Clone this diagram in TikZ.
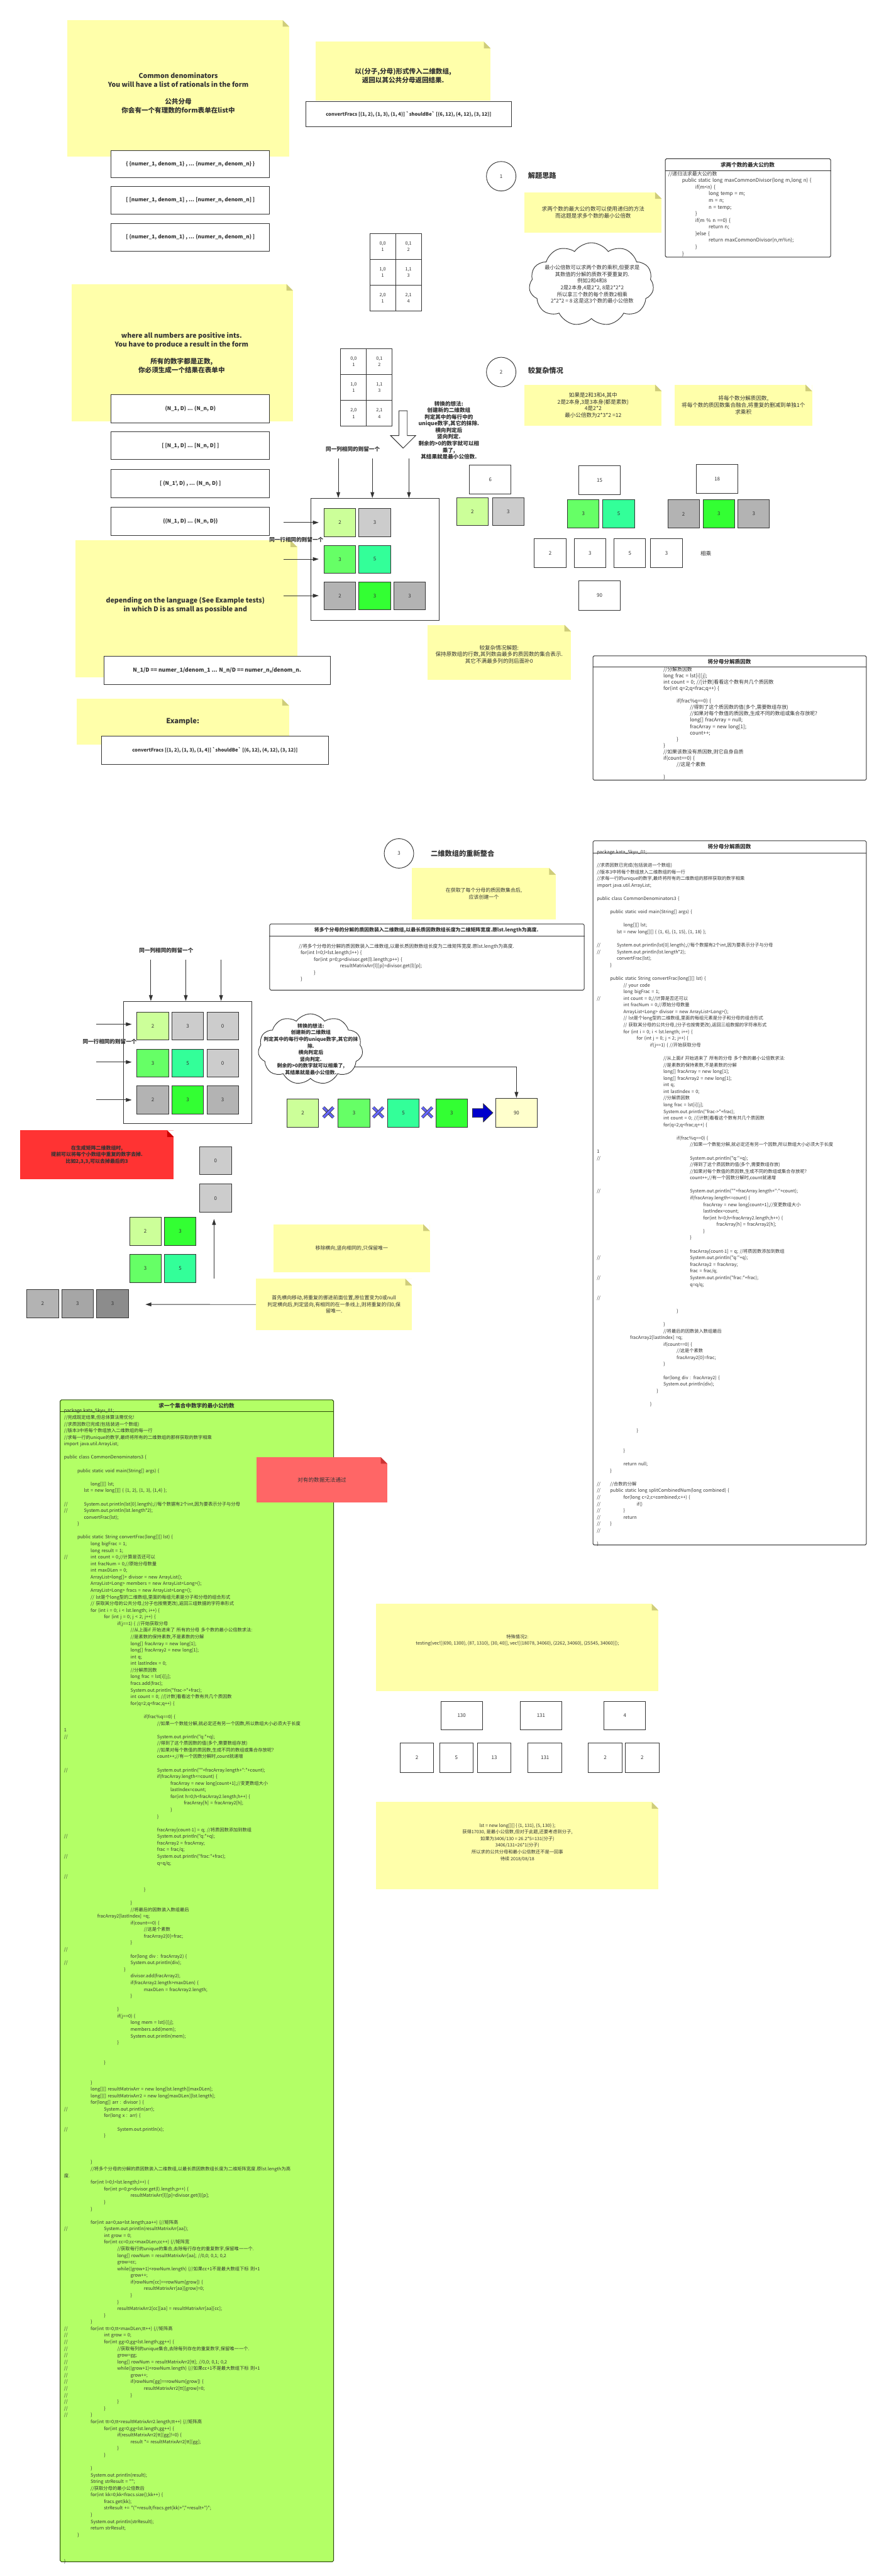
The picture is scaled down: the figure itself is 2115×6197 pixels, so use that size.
\documentclass[tikz,border=0pt]{standalone}
\usepackage{fontspec}
\newfontfamily\cjkfont{Noto Sans CJK SC}
\usepackage{tikz}
\usetikzlibrary{arrows.meta, shapes.symbols, calc}
\definecolor{noteyellow}{HTML}{FFFFAA}
\definecolor{notefold}{HTML}{CFCD7A}
\definecolor{linegray}{HTML}{333333}
\definecolor{txtgray}{HTML}{333333}
\definecolor{palegreen}{HTML}{CCFF99}
\definecolor{midgreen}{HTML}{66FF66}
\definecolor{aquagreen}{HTML}{33FF99}
\definecolor{brightgreen}{HTML}{33FF33}
\definecolor{lightgray}{HTML}{CCCCCC}
\definecolor{midgray}{HTML}{B3B3B3}
\definecolor{deepgray}{HTML}{A6A6A6}
\definecolor{darkestgray}{HTML}{8C8C8C}
\definecolor{paleyellow}{HTML}{FFFFCC}
\definecolor{redstrong}{HTML}{FF3333}
\definecolor{redfold}{HTML}{CC0000}
\definecolor{redsoft}{HTML}{FF6666}
\definecolor{redsoftfold}{HTML}{CC3333}
\definecolor{codegreen}{HTML}{B3FF66}
\definecolor{codegreenline}{HTML}{2B4A0B}
\definecolor{xblue}{HTML}{6666FF}
\definecolor{arrowblue}{HTML}{0000CC}
\setlength\parindent{0pt}
\newcommand\ind[1]{\hspace*{#1pt}}
\newcommand\cmt{\makebox[0pt][l]{//}}
\newcommand\blank{\mbox{}}
\newcommand\foldcorner[2]{%
  \fill[white] (path picture bounding box.north east) -- ++(-#2,0) -- ++(#2,#2) -- cycle;
  \fill[#1] ($(path picture bounding box.north east)+(-#2,0)$) -- ++(0,#2) -- ++(#2,0) -- cycle;}

\begin{document}
\cjkfont
\begin{tikzpicture}[x=1pt, y=-1pt,
  note/.style={anchor=north west, inner sep=0pt, fill=noteyellow, text=txtgray,
               align=center, font=\fontsize{13}{16}\selectfont,
               path picture={\foldcorner{notefold}{16}}},
  rednote/.style={note, fill=redstrong, path picture={\foldcorner{redfold}{16}},
                  font=\bfseries\fontsize{12}{16}\selectfont},
  bigtxt/.style={align=center, text=txtgray, font=\bfseries\fontsize{16}{21}\selectfont},
  notetxt/.style={align=center, text=txtgray, font=\fontsize{13}{16}\selectfont},
  formbox/.style={anchor=north west, draw=linegray, line width=1.5pt, fill=white,
                  inner sep=0pt, text=txtgray, font=\bfseries\fontsize{12.5}{16}\selectfont},
  tcell/.style={anchor=north west, draw=linegray, line width=1.5pt, minimum width=62pt,
                minimum height=62pt, inner sep=0pt, align=center, text=txtgray,
                font=\fontsize{11}{16}\selectfont},
  sq/.style={anchor=north west, draw=linegray, line width=1.5pt, minimum width=76pt,
             minimum height=67pt, inner sep=0pt, text=txtgray, font=\fontsize{12}{14}\selectfont},
  numbox/.style={sq, fill=white, minimum width=100pt, minimum height=70pt},
  grpframe/.style={anchor=north west, draw=linegray, line width=1.5pt, inner sep=0pt,
                   minimum width=309pt, minimum height=294pt},
  codebox/.style={anchor=north west, draw=linegray, line width=1.5pt, rounded corners=3pt,
                  fill=white, inner sep=0pt},
  codetxt/.style={anchor=north west, inner sep=0pt, text width=650pt, align=left, text=txtgray,
                  font=\fontsize{11}{16}\selectfont},
  codettl/.style={text=txtgray, font=\bfseries\fontsize{13}{16}\selectfont},
  circ/.style={circle, draw=linegray, line width=1.4pt, minimum size=71pt, inner sep=0pt,
               text=txtgray, font=\fontsize{12}{14}\selectfont},
  secttl/.style={anchor=west, text=txtgray, font=\bfseries\fontsize{17}{20}\selectfont},
  lbl/.style={align=center, text=txtgray, font=\bfseries\fontsize{13}{16}\selectfont},
  arr/.style={-{Triangle[length=14pt,width=9pt]}, draw=linegray, line width=1.4pt},
  cloudy/.style={cloud, cloud puffs=11, cloud puff arc=110, draw=linegray, line width=1.4pt,
                 fill=white, inner sep=0pt},
  xcross/.style={draw=linegray, line width=1.2pt, double=xblue, double distance=5pt},
]
\useasboundingbox (0,0) rectangle (2115,6197);
\fill[white] (0,0) rectangle (2115,6197);

%% the task
\node[note, minimum width=534pt, minimum height=329pt] (noteA) at (162,48) {};
\node[bigtxt] (noteA-t) at (429,224) {Common denominators\\You will have a list of rationals in the form\\\blank\\公共分母\\你会有一个有理数的form表单在list中};
\node[formbox, minimum width=381pt, minimum height=66pt] (inA) at (267,361) {\{ \{numer\_1, denom\_1\} , ... \{numer\_n, denom\_n\} \}};
\node[formbox, minimum width=381pt, minimum height=66pt] (inB) at (267,448) {[ [numer\_1, denom\_1] , ... [numer\_n, denom\_n] ]};
\node[formbox, minimum width=381pt, minimum height=66pt] (inC) at (267,537) {[ (numer\_1, denom\_1) , ... (numer\_n, denom\_n) ]};

\node[note, minimum width=420pt, minimum height=142pt] (noteB) at (760,100) {};
\node[bigtxt] (noteB-t) at (970,182) {以(分子,分母)形式传入二维数组,\\返回以其公共分母返回结果.};
\node[formbox, minimum width=495pt, minimum height=60pt, font=\bfseries\fontsize{11.5}{14}\selectfont] (exA) at (735,244) {convertFracs [(1, 2), (1, 3), (1, 4)] `shouldBe` [(6, 12), (4, 12), (3, 12)]};

\foreach \v [count=\row from 0] in {2,3,4} {
  \node[tcell] (ta\row0) at (889, 561+62*\row) {\row,0\\1};
  \node[tcell] (ta\row1) at (951, 561+62*\row) {\row,1\\\v};
}

\node[note, minimum width=533pt, minimum height=330pt] (noteC) at (172,683) {};
\node[bigtxt] (noteC-t) at (437,849) {where all numbers are positive ints.\\You have to produce a result in the form\\\blank\\所有的数字都是正数,\\你必须生成一个结果在表单中};
\node[formbox, minimum width=381pt, minimum height=67pt] (outA) at (267,949) {(N\_1, D) ... (N\_n, D)};
\node[formbox, minimum width=381pt, minimum height=67pt] (outB) at (267,1038) {[ [N\_1, D] ... [N\_n, D] ]};
\node[formbox, minimum width=381pt, minimum height=67pt] (outC) at (267,1129) {[ (N\_1', D) , ... (N\_n, D) ]};
\node[formbox, minimum width=381pt, minimum height=67pt] (outD) at (267,1220) {\{(N\_1, D\} ... \{N\_n, D\}\}};

\node[note, minimum width=534pt, minimum height=329pt] (noteM) at (181,1300) {};
\node[bigtxt] (noteM-t) at (446,1455) {depending on the language (See Example tests)\\in which D is as small as possible and};
\node[formbox, minimum width=545pt, minimum height=68pt, font=\bfseries\fontsize{13}{16}\selectfont] (cond) at (249,1578) {N\_1/D == numer\_1/denom\_1 ... N\_n/D == numer\_n,/denom\_n.};

\node[note, minimum width=511pt, minimum height=110pt, font=\bfseries\fontsize{17}{20}\selectfont] (noteN) at (184,1681) {Example:};
\node[formbox, minimum width=545pt, minimum height=68pt, font=\bfseries\fontsize{11.5}{14}\selectfont] (exB) at (244,1770) {convertFracs [(1, 2), (1, 3), (1, 4)] `shouldBe` [(6, 12), (4, 12), (3, 12)]};

%% first matrix
\foreach \v [count=\row from 0] in {2,3,4} {
  \node[tcell] (tb\row0) at (819, 838+62.3*\row) {\row,0\\1};
  \node[tcell] (tb\row1) at (881, 838+62.3*\row) {\row,1\\\v};
}
\filldraw[fill=white, draw=linegray, line width=1.4pt] (960,988) -- (980,988) -- (980,1048) -- (1000,1048) -- (970,1078) -- (940,1048) -- (960,1048) -- cycle;
\node[lbl] (idea) at (1080,1035) {转换的想法:\\创建新的二维数组\\判定其中的每行中的\\unique数字,其它的抹除.\\横向判定后\\竖向判定.\\剩余的>0的数字就可以相\\乘了,\\其结果就是最小公倍数.};
\node[lbl] (colA) at (849,1080) {同一列相同的则留一个};

\node[grpframe] (fA) at (747,1198) {};
\foreach \c/\rw/\v/\f in {0/0/2/palegreen, 1/0/3/lightgray, 0/1/3/midgreen, 1/1/5/aquagreen,
                          0/2/2/midgray, 1/2/3/brightgreen, 2/2/3/midgray}
  \node[sq, fill=\f] (fa\c\rw) at (779+84*\c, 1223+88*\rw) {\v};
\foreach \x [count=\i] in {814,896,984} {
  \coordinate (da\i) at (\x,1103);
  \draw[arr] (da\i) -- (da\i |- fA.north);
}
\foreach \rw in {0,1,2} {
  \coordinate (la\rw) at (683, 1257+88*\rw);
  \draw[arr, shorten >=12pt] (la\rw) -- (la\rw -| fa0\rw.west);
}
\node[lbl] (rowA) at (713,1298) {同一行相同的则留一个};

%% 1 解题思路
\node[circ] (s1) at (1206,424) {1};
\node[secttl] (s1-t) at (1267,423) {解题思路};
\node[note, minimum width=330pt, minimum height=98pt] (noteE) at (1262,462) {求两个数的最大公约数可以使用递归的方法\\而这题是求多个数的最小公倍数};
\node[cloudy, minimum width=300pt, minimum height=200pt] (cloudA) at (1423,684) {};
\node[align=center, text=txtgray, font=\fontsize{12.5}{16}\selectfont] (cloudA-t) at (1425,684) {最小公倍数可以求两个数的乘积,但要求是\\其数值的分解的质数不要重复的.\\例如2和4和8\\2是2本身,4是2*2, 8是2*2*2\\所以拿三个数的每个质数2相乘\\2*2*2 = 8 这是这3个数的最小公倍数};

\node[codebox, minimum width=398pt, minimum height=237pt] (gcd) at (1600,381) {};
\draw[linegray, line width=1.5pt] (gcd.west |- 0,411) -- (gcd.east |- 0,411);
\node[codettl] (gcd-t) at (1799,396) {求两个数的最大公约数};
\node[codetxt, font=\fontsize{12}{16}\selectfont] (gcd-c) at (1608,412) {//递归法求最大公约数\\
\ind{33}public static long maxCommonDivisor(long m,long n) \{\\
\ind{65}if(m<n) \{\\
\ind{97}long temp = m;\\
\ind{97}m = n;\\
\ind{97}n = temp;\\
\ind{65}\}\\
\ind{65}if(m \% n ==0) \{\\
\ind{97}return n;\\
\ind{65}\}else \{\\
\ind{97}return maxCommonDivisor(n,m\%n);\\
\ind{65}\}\\
\ind{33}\}};

%% 2 较复杂情况
\node[circ] (s2) at (1206,895) {2};
\node[secttl] (s2-t) at (1267,892) {较复杂情况};
\node[note, minimum width=330pt, minimum height=99pt] (noteF) at (1262,925) {如果是2和3和4,其中\\2是2本身,3是3本身(都是素数)\\4是2*2\\最小公倍数为2*3*2 =12};
\node[note, minimum width=331pt, minimum height=99pt] (noteG) at (1623,925) {将每个数分解质因数,\\将每个数的质因数集合融合,将重复的删减到单独1个\\求乘积};

\node[numbox] (n6) at (1129,1118) {6};
\node[sq, fill=palegreen] (n6a) at (1098,1197) {2};
\node[sq, fill=lightgray] (n6b) at (1184,1197) {3};
\node[numbox] (n15) at (1392,1119) {15};
\node[sq, fill=midgreen] (n15a) at (1365,1202) {3};
\node[sq, fill=aquagreen] (n15b) at (1450,1202) {5};
\node[numbox] (n18) at (1675,1116) {18};
\node[sq, fill=midgray] (n18a) at (1606,1202) {2};
\node[sq, fill=brightgreen] (n18b) at (1691,1202) {3};
\node[sq, fill=midgray] (n18c) at (1775,1202) {3};
\foreach \x/\v [count=\i] in {1285/2, 1381/3, 1477/5, 1565/3}
  \node[sq, fill=white, minimum height=69pt] (m\i) at (\x,1295) {\v};
\node[anchor=west, text=txtgray, font=\fontsize{13}{16}\selectfont] (mul) at (1682,1331) {相乘};
\node[numbox] (n90) at (1392,1397) {90};

\node[note, minimum width=345pt, minimum height=132pt] (noteD) at (1029,1503) {};
\node[notetxt] (noteD-t) at (1201,1574) {较复杂情况解题:\\保持原数组的行数,其列数由最多的质因数的集合表示.\\其它不满最多列的则后面补0};

\node[codebox, minimum width=658pt, minimum height=299pt] (split) at (1426,1577) {};
\draw[linegray, line width=1.5pt] (split.west |- 0,1605) -- (split.east |- 0,1605);
\node[codettl] (split-t) at (1755,1592) {将分母分解质因数};
\node[codetxt, font=\fontsize{12}{15.3}\selectfont] (split-c) at (1596,1604) {//分解质因数\\
long frac = lst[i][j];\\
int count = 0; //[计数]看看这个数有共几个质因数\\
for(int q=2;q<frac;q++) \{\\
\blank\\
\ind{32}if(frac\%q==0) \{\\
\ind{64}//得到了这个质因数的值(多个,需要数组存放)\\
\ind{64}//如果对每个数值的质因数,生成不同的数组或集合存放呢?\\
\ind{64}long[] fracArray = null;\\
\ind{64}fracArray = new long[1];\\
\ind{64}count++;\\
\ind{32}\}\\
\}\\
//如果该数没有质因数,则它自身自质\\
if(count==0) \{\\
\ind{32}//这是个素数\\
\blank\\
\}};

%% 3 二维数组的重新整合
\node[circ] (s3) at (960,2053) {3};
\node[secttl] (s3-t) at (1033,2053) {二维数组的重新整合};
\node[note, minimum width=346pt, minimum height=123pt, font=\fontsize{12}{16}\selectfont] (noteH) at (991,2088) {在获取了每个分母的质因数集合后,\\应该创建一个};

\node[codebox, minimum width=757pt, minimum height=159pt] (fill) at (648,2222) {};
\draw[linegray, line width=1.5pt] (fill.west |- 0,2252) -- (fill.east |- 0,2252);
\node[codettl, font=\bfseries\fontsize{12}{16}\selectfont] (fill-t) at (1026,2238) {将多个分母的分解的质因数装入二维数组,以最长质因数数组长度为二维矩阵宽度.原lst.length为高度.};
\node[codetxt, font=\fontsize{11.5}{16}\selectfont] (fill-c) at (719,2270) {//将多个分母的分解的质因数装入二维数组,以最长质因数数组长度为二维矩阵宽度.原lst.length为高度.\\
\ind{4}for(int l=0;l<lst.length;l++) \{\\
\ind{36}for(int p=0;p<divisor.get(l).length;p++) \{\\
\ind{99}resultMatrixArr[l][p]=divisor.get(l)[p];\\
\ind{36}\}\\
\ind{4}\}};

\node[lbl] (colB) at (400,2287) {同一列相同的则留一个};
\node[grpframe] (fB) at (296,2408) {};
\foreach \c/\rw/\v/\f in {0/0/2/palegreen, 1/0/3/lightgray, 2/0/0/lightgray,
                          0/1/3/midgreen, 1/1/5/aquagreen, 2/1/0/lightgray,
                          0/2/2/midgray, 1/2/3/brightgreen, 2/2/3/midgray}
  \node[sq, fill=\f] (fb\c\rw) at (329+84*\c, 2434+89*\rw) {\v};
\foreach \x [count=\i] in {363,447,532} {
  \coordinate (db\i) at (\x,2309);
  \draw[arr] (db\i) -- (db\i |- fB.north);
}
\foreach \rw in {0,1,2} {
  \coordinate (lb\rw) at (232, 2464+91*\rw);
  \draw[arr, shorten >=12pt] (lb\rw) -- (lb\rw -| fb0\rw.west);
}
\node[lbl] (rowB) at (264,2505) {同一行相同的则留一个};

\node[cloudy, minimum width=252pt, minimum height=170pt] (cloudB) at (747,2524) {};
\node[lbl, font=\bfseries\fontsize{12}{16}\selectfont] (cloudB-t) at (748,2524) {转换的想法:\\创建新的二维数组\\判定其中的每行中的unique数字,其它的抹\\除.\\横向判定后\\竖向判定.\\剩余的>0的数字就可以相乘了,\\其结果就是最小公倍数.};

\node[sq, fill=palegreen, minimum height=68pt] (p2) at (690,2643) {2};
\node[sq, fill=midgreen, minimum height=68pt] (p3) at (813,2643) {3};
\node[sq, fill=aquagreen, minimum height=68pt] (p5) at (932,2643) {5};
\node[sq, fill=brightgreen, minimum height=68pt] (p3b) at (1048,2643) {3};
\node[sq, fill=paleyellow, minimum width=100pt, minimum height=70pt] (p90) at (1192,2641) {90};
\foreach \x in {790,910,1028} {
  \draw[xcross] (\x-12,2664) -- (\x+12,2688);
  \draw[xcross] (\x+12,2664) -- (\x-12,2688);
}
\filldraw[fill=arrowblue, draw=linegray, line width=1.2pt] (1137,2667) -- (1163,2667) -- (1163,2655) -- (1186,2677) -- (1163,2699) -- (1163,2688) -- (1137,2688) -- cycle;
\draw[arr] (cloudB.-22) -| (p90.north);

\node[rednote, minimum width=370pt, minimum height=118pt] (noteR) at (48,2719) {在生成矩阵二维数组时,\\提前可以将每个小数组中重复的数字去掉.\\比如2,3,3,可以去掉最后的3};
\node[sq, fill=lightgray] (z1) at (480,2758) {0};
\node[sq, fill=lightgray, minimum height=68pt] (z2) at (480,2848) {0};
\node[sq, fill=palegreen, minimum height=68pt] (q2) at (311,2927) {2};
\node[sq, fill=brightgreen, minimum height=68pt] (q3) at (395,2927) {3};
\node[sq, fill=midgreen, minimum height=68pt] (q3b) at (311,3017) {3};
\node[sq, fill=aquagreen, minimum height=68pt] (q5) at (395,3017) {5};
\coordinate (up0) at (515,3076);
\draw[arr, shorten >=15pt] (up0) -- (up0 |- z2.south);
\node[sq, fill=midgray, minimum height=68pt] (r2) at (64,3101) {2};
\node[sq, fill=deepgray, minimum height=68pt] (r3) at (148,3101) {3};
\node[sq, fill=darkestgray, minimum height=68pt] (r3b) at (232,3101) {3};

\node[note, minimum width=376pt, minimum height=116pt, font=\fontsize{12}{16}\selectfont] (noteI) at (658,2945) {移除横向,竖向相同的,只保留唯一};
\node[note, minimum width=375pt, minimum height=124pt, font=\fontsize{12}{16}\selectfont] (noteJ) at (616,3076) {首先横向移动,将重复的挪进前面位置,原位置变为0或null\\判定横向后,判定竖向,有相同的在一条线上,则将重复的归0,保\\留唯一.};
\coordinate (lt) at (350,3138);
\draw[arr] (noteJ.west) -- (lt);

%% version 3 code
\node[codebox, minimum width=658pt, minimum height=1694pt] (v3) at (1426,2022) {};
\draw[linegray, line width=1.5pt] (v3.west |- 0,2052) -- (v3.east |- 0,2052);
\node[codettl] (v3-t) at (1755,2036) {将分母分解质因数};
\node[codetxt] (v3-c) at (1436,2045) {package kata\_5kyu\_01;\\
\blank\\
//求质因数已完成(包括装进一个数组)\\
//版本3中将每个数组放入二维数组的每一行\\
//求每一行的unique的数字,最终将所有的二维数组的那样获取的数字相乘\\
import java.util.ArrayList;\\
\blank\\
public class CommonDenominators3 \{\\
\blank\\
\ind{32}public static void main(String[] args) \{\\
\blank\\
\ind{64}long[][] lst;\\
\ind{48}lst = new long[][] \{ \{1, 6\}, \{1, 15\}, \{1, 18\} \};\\
\blank\\
\cmt\ind{48}System.out.println(lst[0].length);//每个数据有2个int,因为要表示分子与分母\\
\cmt\ind{48}System.out.println(lst.length*2);\\
\ind{48}convertFrac(lst);\\
\ind{32}\}\\
\blank\\
\ind{32}public static String convertFrac(long[][] lst) \{\\
\ind{64}// your code\\
\ind{64}long bigFrac = 1;\\
\cmt\ind{64}int count = 0;//计算是否还可以\\
\ind{64}int fracNum = 0;//原始分母数量\\
\ind{64}ArrayList<Long> divisor = new ArrayList<Long>();\\
\ind{64}// lst是个long型的二维数组,里面的每组元素是分子和分母的组合形式\\
\ind{64}// 获取其分母的公共分母,(分子也按需更改),返回三组数据的字符串形式\\
\ind{64}for (int i = 0; i < lst.length; i++) \{\\
\ind{96}for (int j = 0; j < 2; j++) \{\\
\ind{128}if(j==1) \{ //开始获取分母\\
\blank\\
\ind{160}//从上面if 开始进来了 所有的分母 多个数的最小公倍数求法:\\
\ind{160}//是素数的保持素数,不是素数的分解\\
\ind{160}long[] fracArray = new long[1];\\
\ind{160}long[] fracArray2 = new long[1];\\
\ind{160}int q;\\
\ind{160}int lastIndex = 0;\\
\ind{160}//分解质因数\\
\ind{160}long frac = lst[i][j];\\
\ind{160}System.out.println("frac->"+frac);\\
\ind{160}int count = 0; //[计数]看看这个数有共几个质因数\\
\ind{160}for(q=2;q<frac;q++) \{\\
\blank\\
\ind{192}if(frac\%q==0) \{\\
\ind{224}//如果一个数能分解,就必定还有另一个因数,所以数组大小必须大于长度\\
1\\
\cmt\ind{224}System.out.println("q:"+q);\\
\ind{224}//得到了这个质因数的值(多个,需要数组存放)\\
\ind{224}//如果对每个数值的质因数,生成不同的数组或集合存放呢?\\
\ind{224}count++;//有一个因数分解时,count就递增\\
\blank\\
\cmt\ind{224}System.out.println(""+fracArray.length+":"+count);\\
\ind{224}if(fracArray.length<=count) \{\\
\ind{256}fracArray = new long[count+1];//变更数组大小\\
\ind{256}lastIndex=count;\\
\ind{256}for(int h=0;h<fracArray2.length;h++) \{\\
\ind{288}fracArray[h] = fracArray2[h];\\
\ind{256}\}\\
\ind{224}\}\\
\blank\\
\ind{224}fracArray[count-1] = q; //将质因数添加到数组\\
\cmt\ind{224}System.out.println("q:"+q);\\
\ind{224}fracArray2 = fracArray;\\
\ind{224}frac = frac/q;\\
\cmt\ind{224}System.out.println("frac:"+frac);\\
\ind{224}q=q/q;\\
\blank\\
//\\
\blank\\
\ind{192}\}\\
\blank\\
\ind{160}\}\\
\ind{160}//将最后的因数装入数组最后\\
\ind{80}fracArray2[lastIndex] =q;\\
\ind{160}if(count==0) \{\\
\ind{192}//这是个素数\\
\ind{192}fracArray2[0]=frac;\\
\ind{160}\}\\
\blank\\
\ind{160}for(long div : fracArray2) \{\\
\ind{160}System.out.println(div);\\
\ind{144}\}\\
\blank\\
\ind{128}\}\\
\blank\\
\blank\\
\blank\\
\ind{96}\}\\
\blank\\
\blank\\
\ind{64}\}\\
\blank\\
\ind{64}return null;\\
\ind{32}\}\\
\blank\\
\cmt\ind{32}//合数的分解\\
\cmt\ind{32}public static long splitCombinedNum(long combined) \{\\
\cmt\ind{64}for(long c=2;c<combined;c++) \{\\
\cmt\ind{96}if()\\
\cmt\ind{64}\}\\
\cmt\ind{64}return\\
\cmt\ind{32}\}\\
//\\
\blank\\
\}};

%% the full solution
\node[codebox, fill=codegreen, draw=codegreenline, minimum width=658pt, minimum height=2795pt] (lcm) at (144,3367) {};
\draw[codegreenline, line width=1.5pt] (lcm.west |- 0,3396) -- (lcm.east |- 0,3396);
\node[codettl] (lcm-t) at (473,3381) {求一个集合中数字的最小公约数};
\node[codetxt] (lcm-c) at (154,3389) {package kata\_5kyu\_01;\\
//完成既定结果,但总体算法需优化!\\
//求质因数已完成(包括装进一个数组)\\
//版本3中将每个数组放入二维数组的每一行\\
//求每一行的unique的数字,最终将所有的二维数组的那样获取的数字相乘\\
import java.util.ArrayList;\\
\blank\\
public class CommonDenominators3 \{\\
\blank\\
\ind{32}public static void main(String[] args) \{\\
\blank\\
\ind{64}long[][] lst;\\
\ind{48}lst = new long[][] \{ \{1, 2\}, \{1, 3\}, \{1,4\} \};\\
\blank\\
\cmt\ind{48}System.out.println(lst[0].length);//每个数据有2个int,因为要表示分子与分母\\
\cmt\ind{48}System.out.println(lst.length*2);\\
\ind{48}convertFrac(lst);\\
\ind{32}\}\\
\blank\\
\ind{32}public static String convertFrac(long[][] lst) \{\\
\ind{64}long bigFrac = 1;\\
\ind{64}long result = 1;\\
\cmt\ind{64}int count = 0;//计算是否还可以\\
\ind{64}int fracNum = 0;//原始分母数量\\
\ind{64}int maxDLen = 0;\\
\ind{64}ArrayList<long[]> divisor = new ArrayList();\\
\ind{64}ArrayList<Long> members = new ArrayList<Long>();\\
\ind{64}ArrayList<Long> fracs = new ArrayList<Long>();\\
\ind{64}// lst是个long型的二维数组,里面的每组元素是分子和分母的组合形式\\
\ind{64}// 获取其分母的公共分母,(分子也按需更改),返回三组数据的字符串形式\\
\ind{64}for (int i = 0; i < lst.length; i++) \{\\
\ind{96}for (int j = 0; j < 2; j++) \{\\
\ind{128}if(j==1) \{ //开始获取分母\\
\ind{160}//从上面if 开始进来了 所有的分母 多个数的最小公倍数求法:\\
\ind{160}//是素数的保持素数,不是素数的分解\\
\ind{160}long[] fracArray = new long[1];\\
\ind{160}long[] fracArray2 = new long[1];\\
\ind{160}int q;\\
\ind{160}int lastIndex = 0;\\
\ind{160}//分解质因数\\
\ind{160}long frac = lst[i][j];\\
\ind{160}fracs.add(frac);\\
\ind{160}System.out.println("frac->"+frac);\\
\ind{160}int count = 0; //[计数]看看这个数有共几个质因数\\
\ind{160}for(q=2;q<frac;q++) \{\\
\blank\\
\ind{192}if(frac\%q==0) \{\\
\ind{224}//如果一个数能分解,就必定还有另一个因数,所以数组大小必须大于长度\\
1\\
\cmt\ind{224}System.out.println("q:"+q);\\
\ind{224}//得到了这个质因数的值(多个,需要数组存放)\\
\ind{224}//如果对每个数值的质因数,生成不同的数组或集合存放呢?\\
\ind{224}count++;//有一个因数分解时,count就递增\\
\blank\\
\cmt\ind{224}System.out.println(""+fracArray.length+":"+count);\\
\ind{224}if(fracArray.length<=count) \{\\
\ind{256}fracArray = new long[count+1];//变更数组大小\\
\ind{256}lastIndex=count;\\
\ind{256}for(int h=0;h<fracArray2.length;h++) \{\\
\ind{288}fracArray[h] = fracArray2[h];\\
\ind{256}\}\\
\ind{224}\}\\
\blank\\
\ind{224}fracArray[count-1] = q; //将质因数添加到数组\\
\cmt\ind{224}System.out.println("q:"+q);\\
\ind{224}fracArray2 = fracArray;\\
\ind{224}frac = frac/q;\\
\cmt\ind{224}System.out.println("frac:"+frac);\\
\ind{224}q=q/q;\\
\blank\\
//\\
\blank\\
\ind{192}\}\\
\blank\\
\ind{160}\}\\
\ind{160}//将最后的因数装入数组最后\\
\ind{80}fracArray2[lastIndex] =q;\\
\ind{160}if(count==0) \{\\
\ind{192}//这是个素数\\
\ind{192}fracArray2[0]=frac;\\
\ind{160}\}\\
//\\
\ind{160}for(long div : fracArray2) \{\\
\cmt\ind{160}System.out.println(div);\\
\ind{144}\}\\
\ind{160}divisor.add(fracArray2);\\
\ind{160}if(fracArray2.length>maxDLen) \{\\
\ind{192}maxDLen = fracArray2.length;\\
\ind{160}\}\\
\blank\\
\ind{128}\}\\
\ind{128}if(j==0) \{\\
\ind{160}long mem = lst[i][j];\\
\ind{160}members.add(mem);\\
\ind{160}System.out.println(mem);\\
\ind{128}\}\\
\blank\\
\blank\\
\ind{96}\}\\
\blank\\
\blank\\
\ind{64}\}\\
\ind{64}long[][] resultMatrixArr = new long[lst.length][maxDLen];\\
\ind{64}long[][] resultMatrixArr2 = new long[maxDLen][lst.length];\\
\ind{64}for(long[] arr : divisor ) \{\\
\cmt\ind{96}System.out.println(arr);\\
\ind{96}for(long x : arr) \{\\
\blank\\
\cmt\ind{128}System.out.println(x);\\
\ind{96}\}\\
\blank\\
\blank\\
\blank\\
\ind{64}\}\\
\ind{64}//将多个分母的分解的质因数装入二维数组,以最长质因数数组长度为二维矩阵宽度.原lst.length为高\\
度.\\
\ind{64}for(int l=0;l<lst.length;l++) \{\\
\ind{96}for(int p=0;p<divisor.get(l).length;p++) \{\\
\ind{160}resultMatrixArr[l][p]=divisor.get(l)[p];\\
\ind{96}\}\\
\ind{64}\}\\
\blank\\
\ind{64}for(int aa=0;aa<lst.length;aa++) \{//矩阵高\\
\cmt\ind{96}System.out.println(resultMatrixArr[aa]);\\
\ind{96}int grow = 0;\\
\ind{96}for(int cc=0;cc<maxDLen;cc++) \{//矩阵宽\\
\ind{128}//获取每行的unique的集合,去除每行存在的重复数字,保留唯一一个.\\
\ind{128}long[] rowNum = resultMatrixArr[aa]; //0,0; 0,1; 0,2\\
\ind{128}grow=cc;\\
\ind{128}while((grow+1)<rowNum.length) \{//如果cc+1不是最大数组下标 则+1\\
\ind{160}grow++;\\
\ind{160}if(rowNum[cc]==rowNum[grow]) \{\\
\ind{192}resultMatrixArr[aa][grow]=0;\\
\ind{160}\}\\
\ind{128}\}\\
\ind{128}resultMatrixArr2[cc][aa] = resultMatrixArr[aa][cc];\\
\ind{96}\}\\
\ind{64}\}\\
\cmt\ind{64}for(int tt=0;tt<maxDLen;tt++) \{//矩阵高\\
\cmt\ind{96}int grow = 0;\\
\cmt\ind{96}for(int gg=0;gg<lst.length;gg++) \{\\
\cmt\ind{128}//获取每列的unique集合,去除每列存在的重复数字,保留唯一一个.\\
\cmt\ind{128}grow=gg;\\
\cmt\ind{128}long[] rowNum = resultMatrixArr2[tt]; //0,0; 0,1; 0,2\\
\cmt\ind{128}while((grow+1)<rowNum.length) \{//如果cc+1不是最大数组下标 则+1\\
\cmt\ind{160}grow++;\\
\cmt\ind{160}if(rowNum[gg]==rowNum[grow]) \{\\
\cmt\ind{192}resultMatrixArr2[tt][grow]=0;\\
\cmt\ind{160}\}\\
\cmt\ind{128}\}\\
\cmt\ind{96}\}\\
\cmt\ind{64}\}\\
\ind{64}for(int tt=0;tt<resultMatrixArr2.length;tt++) \{//矩阵高\\
\ind{96}for(int gg=0;gg<lst.length;gg++) \{\\
\ind{128}if(resultMatrixArr2[tt][gg]!=0) \{\\
\ind{160}result *= resultMatrixArr2[tt][gg];\\
\ind{128}\}\\
\ind{96}\}\\
\blank\\
\ind{64}\}\\
\ind{64}System.out.println(result);\\
\ind{64}String strResult = "";\\
\ind{64}//获取分母的最小公倍数后\\
\ind{64}for(int kk=0;kk<fracs.size();kk++) \{\\
\ind{96}fracs.get(kk);\\
\ind{96}strResult += "("+result/fracs.get(kk)+","+result+")";\\
\ind{64}\}\\
\ind{64}System.out.println(strResult);\\
\ind{64}return strResult;\\
\ind{32}\}\\
\blank\\
\blank\\
\blank\\
\}};
\node[note, fill=redsoft, path picture={\foldcorner{redsoftfold}{16}}, minimum width=315pt, minimum height=109pt] (noteF2) at (617,3505) {对有的数据无法通过};

%% special case
\node[note, minimum width=680pt, minimum height=210pt] (noteK) at (904,3858) {};
\node[notetxt, font=\fontsize{11}{16}\selectfont] (noteK-t) at (1245,3946) {特殊情况2:\\testing(vec![(690, 1300), (87, 1310), (30, 40)], vec![(18078, 34060), (2262, 34060), (25545, 34060)]);};
\node[numbox, minimum height=69pt] (k130) at (1060,4092) {130};
\node[numbox, minimum height=69pt] (k131) at (1251,4092) {131};
\node[numbox, minimum height=69pt] (k4) at (1453,4092) {4};
\foreach \x/\v [count=\i] in {962/2, 1057/5, 1148/13, 1270/131, 1415/2, 1504/2}
  \node[sq, fill=white, minimum width=81pt, minimum height=71pt] (kf\i) at (\x,4192) {\v};
\node[note, minimum width=680pt, minimum height=210pt] (noteL) at (904,4335) {};
\node[notetxt, font=\fontsize{11}{16}\selectfont] (noteL-t) at (1245,4432) {lst = new long[][] \{ \{1, 131\}, \{5, 130\} \};\\获得17030, 是最小公倍数,但对于此题,还要考虑到分子,\\如果为3406/130 = 26.2*5=131(分子)\\3406/131=26*1(分子)\\所以求的公共分母和最小公倍数还不是一回事\\待续 2018/08/18};
\end{tikzpicture}
\end{document}
